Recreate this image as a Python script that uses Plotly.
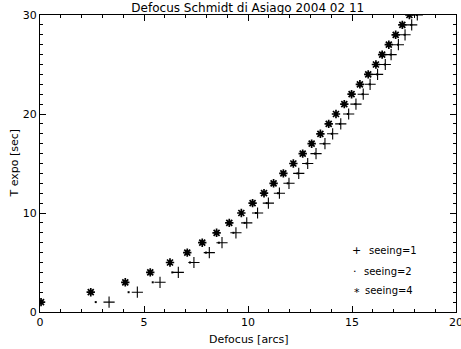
import plotly.graph_objects as go

title = "Defocus Schmidt di Asiago 2004 02 11"
x_title = "Defocus [arcs]"
y_title = "T expo [sec]"

t_expo = list(range(1, 31))

defocus_seeing1 = [3.32, 4.68, 5.77, 6.65, 7.40, 8.14, 8.75, 9.42, 9.94, 10.46,
                   10.98, 11.51, 11.97, 12.44, 12.87, 13.27, 13.70, 14.07, 14.46, 14.84,
                   15.19, 15.54, 15.87, 16.23, 16.60, 16.88, 17.23, 17.55, 17.87, 18.14]
defocus_seeing2 = [2.68, 4.26, 5.42, 6.36, 7.21, 7.98, 8.60, 9.30, 9.84, 10.38,
                   10.90, 11.44, 11.91, 12.38, 12.82, 13.22, 13.65, 14.03, 14.42, 14.80,
                   15.16, 15.51, 15.85, 16.21, 16.58, 16.86, 17.21, 17.53, 17.85, 18.12]
defocus_seeing4 = [0.05, 2.44, 4.10, 5.30, 6.25, 7.08, 7.80, 8.49, 9.10, 9.68,
                   10.22, 10.77, 11.23, 11.70, 12.18, 12.63, 13.06, 13.48, 13.88, 14.23,
                   14.63, 14.98, 15.38, 15.78, 16.15, 16.45, 16.77, 17.10, 17.42, 17.76]

legend_labels = ["seeing=1", "seeing=2", "seeing=4"]
legend_symbols = ["+", ".", "*"]

FONT = "DejaVu Sans"

fig = go.Figure()
fig.add_trace(go.Scatter(x=defocus_seeing1, y=t_expo, mode="markers", name=legend_labels[0],
                         marker=dict(symbol="cross-thin-open", size=8, color="black",
                                     line=dict(color="black", width=1.1))))
fig.add_trace(go.Scatter(x=defocus_seeing2, y=t_expo, mode="markers", name=legend_labels[1],
                         marker=dict(symbol="square", size=2, color="black",
                                     line=dict(width=0))))
fig.add_trace(go.Scatter(x=defocus_seeing4, y=t_expo, mode="markers", name=legend_labels[2],
                         marker=dict(symbol="asterisk-open", size=7, color="black",
                                     line=dict(color="black", width=1.7))))

# IDL-style legend drawn with text characters
leg_y = [6.2, 4.07, 2.22]
sym_x = [15.23, 15.14, 15.24]
txt_x = [15.70, 15.47, 15.54]
sym_shift = [0, 3, -2]
for i in range(3):
    fig.add_annotation(x=sym_x[i], y=leg_y[i], text=legend_symbols[i], showarrow=False,
                       xanchor="center", yanchor="middle", yshift=sym_shift[i],
                       font=dict(family=FONT, size=11, color="black"))
    fig.add_annotation(x=txt_x[i], y=leg_y[i], text=legend_labels[i], showarrow=False,
                       xanchor="left", yanchor="middle",
                       font=dict(family=FONT, size=10, color="black"))

# axis titles placed as in the reference
fig.add_annotation(x=0.5, y=-0.094, xref="paper", yref="paper", text=x_title, showarrow=False,
                   xanchor="center", yanchor="middle", font=dict(family=FONT, size=11, color="black"))
fig.add_annotation(x=-0.0625, y=0.5, xref="paper", yref="paper", text=y_title, showarrow=False,
                   textangle=-90, xanchor="center", yanchor="middle",
                   font=dict(family=FONT, size=11, color="black"))

axis_common = dict(showline=True, linecolor="black", linewidth=1, mirror="allticks",
                   ticks="inside", ticklen=6, tickcolor="black", tickwidth=1,
                   showgrid=False, zeroline=False, automargin=False,
                   ticklabeloverflow="allow",
                   tickfont=dict(family=FONT, size=11, color="black"),
                   minor=dict(ticks="inside", ticklen=3, dtick=1, tickcolor="black", showgrid=False))

fig.update_xaxes(range=[0, 20], tick0=0, dtick=5, **axis_common)
fig.update_yaxes(range=[0, 30], tick0=0, dtick=10, **axis_common)

fig.update_layout(
    width=461, height=349,
    margin=dict(l=40, r=5, t=15, b=37),
    paper_bgcolor="white", plot_bgcolor="white",
    showlegend=False,
    title=dict(text=title, x=0.5375, xanchor="center", y=0.977, yanchor="middle",
               font=dict(family=FONT, size=12, color="black")),
)

fig.write_html("out.html", config={"displayModeBar": False},
               post_script="document.body.style.margin='0';document.body.style.overflow='hidden';")
